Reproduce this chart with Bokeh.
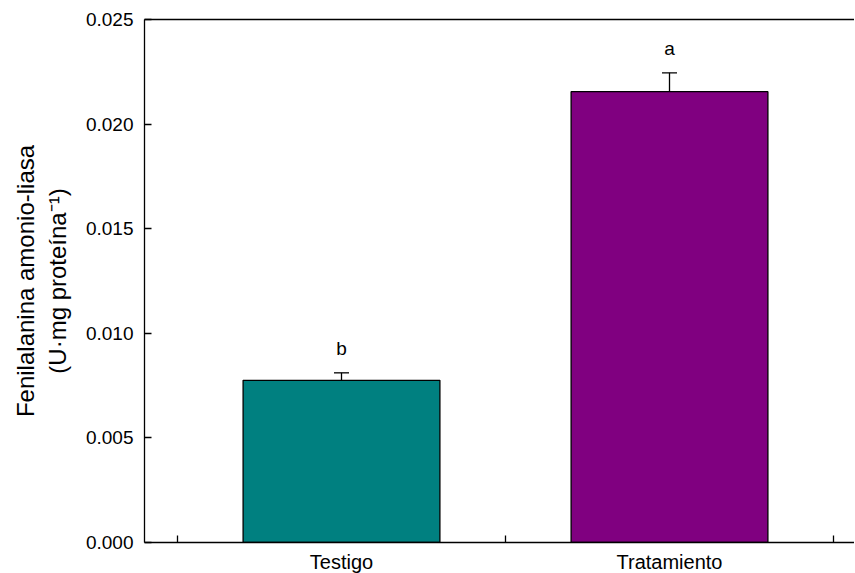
from bokeh.plotting import figure
from bokeh.models import (ColumnDataSource, FixedTicker, NumeralTickFormatter, LinearAxis,
                          Whisker, TeeHead, LabelSet, Range1d)
from bokeh.core.properties import value
from bokeh.embed import file_html
from bokeh.resources import INLINE

categories = ["Testigo", "Tratamiento"]
positions = [0.5, 1.5]
values = [0.00775, 0.02155]
errors = [0.00036, 0.00090]
letters = ["b", "a"]
colors = ["#008080", "#800080"]
y_ticks = [0.0, 0.005, 0.010, 0.015, 0.020, 0.025]
x_minor = [0, 1, 2]

FONT = "Liberation Sans"

src = ColumnDataSource(dict(
    x=positions, top=values,
    upper=[v + e for v, e in zip(values, errors)],
    lower=values, letter=letters, color=colors, name=categories,
))

p = figure(frame_width=710, frame_height=523, output_backend="svg", toolbar_location=None,
           x_range=Range1d(-0.1006, 2.064), y_range=Range1d(0, 0.025),
           min_border_left=144, min_border_top=19, min_border_right=0, min_border_bottom=20)
p.outline_line_color = None
p.xgrid.visible = False
p.ygrid.visible = False
p.background_fill_color = "white"
p.border_fill_color = "white"

p.vbar(x="x", top="top", bottom=0, width=0.6, source=src, fill_color="color",
       line_color="black", line_width=1.3)

w = Whisker(base="x", upper="upper", lower="lower", source=src,
            upper_head=TeeHead(size=15, line_color="black", line_width=1.3),
            lower_head=None, line_color="black", line_width=1.3)
p.add_layout(w)

labels = LabelSet(x="x", y="upper", text="letter", source=src, y_offset=18,
                  text_align="center", text_baseline="alphabetic",
                  text_font=value(FONT), text_font_size=value("19px"), text_color="black")
p.add_layout(labels)

# y axis
ya = p.yaxis[0]
ya.ticker = FixedTicker(ticks=y_ticks, minor_ticks=[])
ya.formatter = NumeralTickFormatter(format="0.000")
ya.major_tick_in = 7
ya.major_tick_out = 0
ya.minor_tick_in = 0
ya.minor_tick_out = 0
ya.major_label_standoff = 11
ya.major_label_text_font = FONT
ya.major_label_text_font_size = "19px"
ya.major_label_text_color = "black"
ya.axis_line_color = "black"
ya.axis_line_width = 1.3
ya.major_tick_line_width = 1.3
ya.axis_label = "Fenilalanina amonio-liasa\n(U·mg proteína\u207b\u00b9)"
ya.axis_label_text_font = FONT
ya.axis_label_text_font_size = "24px"
ya.axis_label_text_font_style = "normal"
ya.axis_label_text_color = "black"
ya.axis_label_text_line_height = 1.2
ya.axis_label_standoff = 12

# x axis
xa = p.xaxis[0]
xa.ticker = FixedTicker(ticks=positions, minor_ticks=x_minor)
xa.major_label_overrides = {pos: name for pos, name in zip(positions, categories)}
xa.major_tick_in = 0
xa.major_tick_out = 0
xa.minor_tick_in = 7
xa.minor_tick_out = 0
xa.minor_tick_line_color = "black"
xa.minor_tick_line_width = 1.3
xa.major_label_standoff = 8
xa.major_label_text_font = FONT
xa.major_label_text_font_size = "20px"
xa.major_label_text_color = "black"
xa.axis_line_color = "black"
xa.axis_line_width = 1.3

# top line
top = LinearAxis(ticker=FixedTicker(ticks=[]), major_label_text_font_size="0px",
                 axis_line_color="black", axis_line_width=1.3,
                 major_tick_in=0, major_tick_out=0, minor_tick_in=0, minor_tick_out=0)
p.add_layout(top, "above")

open("out.html", "w").write(file_html(p, INLINE))
